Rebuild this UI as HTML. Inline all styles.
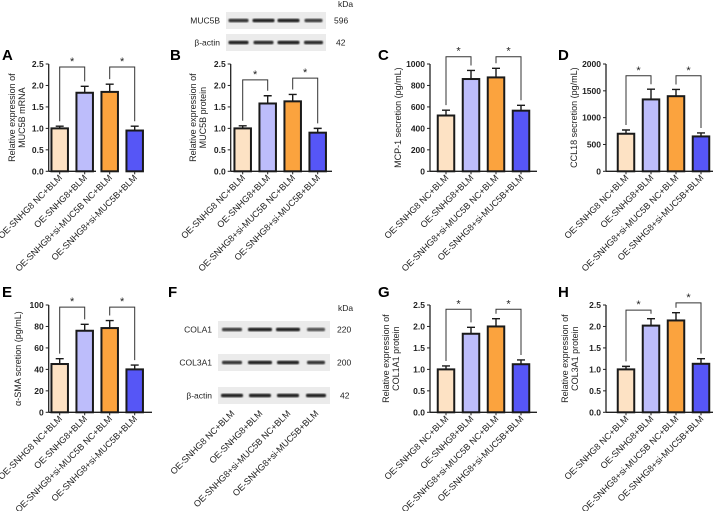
<!DOCTYPE html>
<html><head><meta charset="utf-8"><style>
html,body{margin:0;padding:0;background:#fff;}
svg{display:block;font-family:"Liberation Sans",Arial,sans-serif;}
</style></head><body>
<svg id="fig" width="719" height="511" viewBox="0 0 719 511">
<defs><filter id="blur1"><feGaussianBlur stdDeviation="0.9"/></filter></defs>
</svg>
<script>
const categories = ["OE-SNHG8 NC+BLM","OE-SNHG8+BLM","OE-SNHG8+si-MUC5B NC+BLM","OE-SNHG8+si-MUC5B+BLM"];
const valuesA = [1.0, 1.83, 1.85, 0.95];
const errorsA = [0.05, 0.15, 0.18, 0.10];
const valuesB = [1.0, 1.58, 1.63, 0.90];
const errorsB = [0.06, 0.18, 0.16, 0.10];
const valuesC = [520, 860, 875, 565];
const errorsC = [50, 80, 85, 50];
const valuesD = [700, 1340, 1400, 650];
const errorsD = [70, 190, 125, 65];
const valuesE = [45, 76, 78.5, 40];
const errorsE = [5, 6, 7, 4];
const valuesG = [1.0, 1.83, 2.0, 1.12];
const errorsG = [0.08, 0.15, 0.18, 0.10];
const valuesH = [1.0, 2.02, 2.14, 1.13];
const errorsH = [0.07, 0.16, 0.18, 0.12];
const ticksRel = [0, 0.5, 1.0, 1.5, 2.0, 2.5];
const ticksC = [0, 200, 400, 600, 800, 1000];
const ticksD = [0, 500, 1000, 1500, 2000];
const ticksE = [0, 20, 40, 60, 80, 100];
const bracketsA = [2.43, 2.43];
const bracketsB = [2.13, 2.17];
const bracketsC = [1068, 1068];
const bracketsD = [1780, 1780];
const bracketsE = [98, 98];
const bracketsG = [2.4, 2.4];
const bracketsH = [2.38, 2.55];
const colors = ["#fde2c4","#bdbdfb","#fba33e","#5656f6"];

const NS="http://www.w3.org/2000/svg";
const svg=document.getElementById('fig');
function mk(tag,attrs,parent,text){const e=document.createElementNS(NS,tag);for(const k in attrs)e.setAttribute(k,attrs[k]);if(text!==undefined)e.textContent=text;(parent||svg).appendChild(e);return e;}

function panel(letter,lx,ly,ax,yTop,yBot,max,ticks,fmt,firstOff,axEnd,vals,errs,brk,title){
  const g=mk('g',{});
  
  
  const sy=v=>yBot-(v/max)*(yBot-yTop);
  const lab=mk('text',{x:lx,y:ly,'font-size':15,'font-weight':'bold'},g,letter);
  
  
  const yl=mk('line',{x1:ax,y1:yTop,x2:ax,y2:yBot,stroke:'#222','stroke-width':1.3},g);
  
  
  const xl=mk('line',{x1:ax,y1:yBot,x2:axEnd,y2:yBot,stroke:'#222','stroke-width':1.3},g);
  
  
  ticks.forEach(t=>{
    mk('line',{x1:ax-3,y1:sy(t),x2:ax,y2:sy(t),stroke:'#222','stroke-width':1},g);
    const tl=mk('text',{x:ax-5,y:sy(t)+3,'font-size':8.5,'font-weight':'bold','text-anchor':'end',fill:'#222'},g,fmt(t));
    
    
  });
  const tx=title.x, tyc=(yTop+yBot)/2;
  const tt=mk('text',{transform:`translate(${tx},${tyc}) rotate(-90)`,'font-size':9,'text-anchor':'middle',fill:'#222'},g);
  
  
  title.lines.forEach((l,i)=>mk('tspan',{x:0,dy:i?10:(title.lines.length>1?-5:0)},tt,l));
  const cx=[];
  vals.forEach((v,i)=>{
    const c=ax+firstOff+25*i; cx.push(c);
    const bw=16.5;
    const b=mk('rect',{x:c-bw/2,y:sy(v),width:bw,height:yBot-sy(v),fill:colors[i],stroke:'#1a1a1a','stroke-width':2},g);
    
    
    const et=sy(v+errs[i]);
    const e=mk('path',{d:`M${c},${sy(v)} V${et} M${c-4},${et} H${c+4}`,stroke:'#1a1a1a','stroke-width':1.4,fill:'none'},g);
    
    
    mk('line',{x1:c,y1:yBot,x2:c,y2:yBot+3,stroke:'#222','stroke-width':1},g);
    const xt=mk('text',{transform:`translate(${c+3},${yBot+7}) rotate(-45)`,'font-size':9,'text-anchor':'end',fill:'#222'},g,categories[i]);
    
    
  });
  [[0,1],[2,3]].forEach((p,k)=>{
    const by=sy(brk[k]);
    const l1=sy(vals[p[0]]+errs[p[0]])-5, l2=sy(vals[p[1]]+errs[p[1]])-5;
    const br=mk('path',{d:`M${cx[p[0]]},${l1} V${by} H${cx[p[1]]} V${l2}`,stroke:'#333','stroke-width':1,fill:'none'},g);
    
    
    const st=mk('text',{x:(cx[p[0]]+cx[p[1]])/2,y:by-2,'font-size':11,'text-anchor':'middle',fill:'#222'},g,'*');
    
    
  });
}
const f1=t=>t.toFixed(1), f0=t=>String(t);
const relTitle=(gene,kind)=>['Relative expression of',gene+' '+kind];
panel('A',2,60,48.7,64,171.3,2.5,ticksRel,f1,11,96,valuesA,errorsA,bracketsA,{x:20,lines:relTitle('MUC5B','mRNA')});
panel('B',170,60,230.7,64,171.3,2.5,ticksRel,f1,12,332,valuesB,errorsB,bracketsB,{x:201,lines:relTitle('MUC5B','protein')});
panel('C',378,60,430,64,171.3,1000,ticksC,f0,16,537,valuesC,errorsC,bracketsC,{x:401,lines:['MCP-1 secretion (pg/mL)']});
panel('D',558,60,606,64,171.3,2000,ticksD,f0,20,713,valuesD,errorsD,bracketsD,{x:577,lines:['CCL18 secretion (pg/mL)']});
panel('E',2,297,48.7,305,412.3,100,ticksE,f0,11,152,valuesE,errorsE,bracketsE,{x:21,lines:['α-SMA scretion (pg/mL)']});
panel('G',378,297,430,305,412.3,2.5,ticksRel,f1,16,537,valuesG,errorsG,bracketsG,{x:394,lines:relTitle('COL1A1','protein')});
panel('H',558,297,606,305,412.3,2.5,ticksRel,f1,20,713,valuesH,errorsH,bracketsH,{x:573,lines:relTitle('COL3A1','protein')});

function blot(name,x,y,w,h,widths,dark,label,kda,lblX,kdaX){
  const g=mk('g',{});
  
  
  mk('rect',{x:x,y:y,width:w,height:h,fill:'#ebebeb'},g);
  widths.forEach((bw,i)=>{
    const c=x+w*(i+0.5)/4;
    mk('rect',{x:c-bw/2,y:y+h/2-1.8,width:bw,height:3.6,rx:1.5,fill:'#222','opacity':dark[i],filter:'url(#blur1)'},g);
  });
  mk('text',{x:lblX,y:y+h/2+3,'font-size':8.5,'text-anchor':'end',fill:'#222'},g,label);
  mk('text',{x:kdaX,y:y+h/2+3,'font-size':8.5,fill:'#222'},g,kda);
}
blot('muc5b',226,12,100,17,[20,22,22,18],[0.9,1,1,0.85],'MUC5B','596',220,334);
blot('actin-top',226,34,100,17,[20,20,22,19],[1,0.95,1,0.95],'β-actin','42',220,336);
mk('text',{x:338,y:7,'font-size':8.5,fill:'#222'},svg,'kDa');
mk('text',{x:168,y:297,'font-size':15,'font-weight':'bold'},svg,'F');
blot('cola1',218,321,112,17,[20,24,24,18],[0.85,1,1,0.75],'COLA1','220',212,337);
blot('col3a1',218,354,112,17,[20,24,22,18],[0.9,1,1,0.9],'COL3A1','200',212,337);
blot('actin-f',218,387,112,17,[22,22,22,20],[1,1,1,1],'β-actin','42',212,340);
mk('text',{x:338,y:311,'font-size':8.5,fill:'#222'},svg,'kDa');
for(let i=0;i<4;i++){
  const c=218+112*(i+0.5)/4;
  const t=mk('text',{transform:`translate(${c+3},${414}) rotate(-45)`,'font-size':9,'text-anchor':'end',fill:'#222'},svg,categories[i]);
  
  
}
</script>
</body></html>
